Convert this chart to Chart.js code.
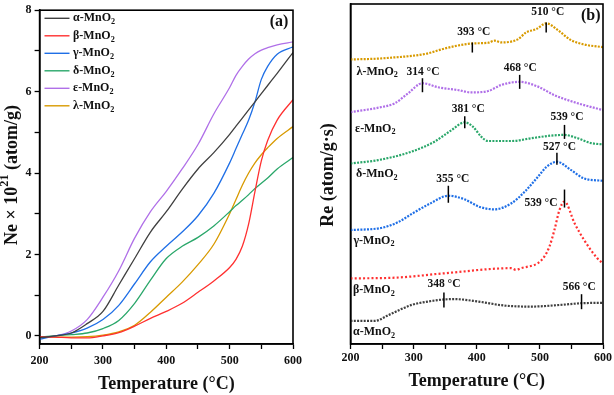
<!DOCTYPE html>
<html><head><meta charset="utf-8">
<script src="https://cdn.jsdelivr.net/npm/chart.js@4/dist/chart.umd.min.js"></script>
<style>
html,body{margin:0;padding:0;background:#fff;overflow:hidden;}
#wa{position:absolute;left:0;top:0;width:307px;height:395px;}
#wb{position:absolute;left:307px;top:0;width:307px;height:395px;}
</style></head><body>
<div id="wa"><canvas id="ca" width="307" height="395"></canvas></div>
<div id="wb"><canvas id="cb" width="307" height="395"></canvas></div>
<script>
// ---------- DATA ----------
const seriesNames = ['α-MnO', 'β-MnO', 'γ-MnO', 'δ-MnO', 'ε-MnO', 'λ-MnO']; // each followed by subscript "2"
const seriesColors = ['#404040', '#ff3030', '#1f6fe6', '#2aa76a', '#b070e8', '#d89a00'];

// Panel (a): Ne x 10^21 (atom/g) vs temperature
const tempsA = [200,225,250,275,300,325,350,375,400,425,450,475,500,510,520,530,540,550,560,575,600];
const neAlpha   = [-0.05,0.00,0.07,0.30,0.60,1.25,1.90,2.55,3.05,3.60,4.10,4.50,4.95,5.15,5.35,5.55,5.75,5.95,6.15,6.45,6.96];
const neBeta    = [-0.02,-0.03,-0.05,-0.05,0.00,0.08,0.24,0.43,0.60,0.80,1.07,1.35,1.68,1.88,2.20,2.75,3.55,4.30,4.80,5.30,5.80];
const neGamma   = [-0.08,0.00,0.07,0.19,0.40,0.75,1.28,1.82,2.20,2.55,2.95,3.50,4.25,4.60,4.95,5.30,5.75,6.30,6.62,6.92,7.10];
const neDelta   = [-0.03,0.00,0.03,0.07,0.18,0.38,0.80,1.37,1.90,2.20,2.42,2.70,3.05,3.20,3.33,3.47,3.62,3.75,3.88,4.10,4.38];
const neEpsilon = [-0.05,0.00,0.12,0.40,0.95,1.60,2.40,3.05,3.55,4.10,4.70,5.45,6.10,6.40,6.62,6.80,6.93,7.02,7.08,7.15,7.22];
const neLambda  = [-0.03,-0.03,-0.03,-0.02,0.02,0.10,0.26,0.58,0.95,1.32,1.75,2.25,3.00,3.35,3.70,4.00,4.25,4.45,4.62,4.85,5.14];
const xTicksA = [200, 300, 400, 500, 600];
const yTicksA = [0, 2, 4, 6, 8];

// Panel (b): Re (atom/g·s) vs temperature, stacked (arbitrary offset units)
const reAlphaT   = [200,239,260,297,323,348,365,402,444,486,533,566,600];
const reAlphaV   = [6.8,6.8,8.5,11.5,12.5,13.1,13.2,12.5,11.3,11.0,11.5,12.0,12.1];
const reBetaT    = [200,270,349,455,462,470,497,507,515,523,531,539,555,570,591,600];
const reBetaV    = [19.3,19.5,20.8,22.3,21.8,22.3,23.8,25.7,28.6,33.5,39.4,41.9,35.5,30.6,25.2,23.7];
const reGammaT   = [200,250,275,300,325,355,380,405,428,455,476,497,510,527,549,570,600];
const reGammaV   = [33.5,34.2,35.8,38.6,41.2,43.6,42.6,40.3,39.6,41.4,44.8,49.2,52.0,53.6,51.2,48.7,48.0];
const reDeltaT   = [200,244,297,333,360,381,394,407,418,455,486,518,539,560,581,600];
const reDeltaV   = [53.1,54.1,56.6,59.5,62.9,65.2,63.9,61.0,59.7,59.7,60.5,61.3,61.5,60.5,59.1,58.7];
const reEpsilonT = [200,244,270,291,314,339,349,370,391,418,439,468,497,523,560,600];
const reEpsilonV = [68.2,69.5,70.8,73.7,76.7,75.5,75.2,74.7,74.0,74.4,76.2,77.1,75.7,73.2,70.8,68.8];
const reLambdaT  = [200,240,270,300,323,345,365,394,418,428,439,465,478,494,510,528,549,570,600];
const reLambdaV  = [83.7,83.9,84.3,84.8,85.5,86.7,87.6,88.4,88.6,89.2,88.7,89.6,91.6,92.6,94.3,92.4,89.4,88.1,87.3];
// peak markers: series index and temperature (°C)
const peakSeries = [5, 5, 4, 4, 3, 3, 2, 2, 1, 0, 0];
const peakTemps  = [510, 393, 314, 468, 381, 539, 527, 355, 539, 348, 566];

// ---------- STYLE ----------
const SERIF = '"Liberation Serif", "Times New Roman", serif';
// marker line offsets (px) relative to curve, and label offsets
const peakStyle = [
  {t:-1,b:9,dx:1.5,dy:-10.5},{t:-1,b:9,dx:1.5,dy:-11},
  {t:-5,b:9,dx:0.5,dy:-6.5},{t:-7,b:7,dx:0.5,dy:-6.7},
  {t:-6,b:6,dx:3.5,dy:-7.7},{t:-10,b:4,dx:2.5,dy:-7.7},
  {t:-9,b:3,dx:2.5,dy:-5.8},{t:-10,b:7,dx:4.5,dy:-6.7},
  {t:-12,b:6,dx:-23.5,dy:13.3},
  {t:-7,b:8,dx:0,dy:-8.3},{t:-9,b:6,dx:-2.3,dy:-7}
];

function drawRich(ctx, parts, x, y, size, align) {
  // parts: [text, mode] mode 0 normal, 1 subscript, 2 superscript
  const widths = parts.map(([t, m]) => {
    ctx.font = 'bold ' + (m ? size * 0.68 : size) + 'px ' + SERIF;
    return ctx.measureText(t).width;
  });
  const total = widths.reduce((a, b) => a + b, 0);
  let cx = align === 'center' ? x - total / 2 : (align === 'right' ? x - total : x);
  ctx.textAlign = 'left';
  ctx.textBaseline = 'middle';
  parts.forEach(([t, m], i) => {
    ctx.font = 'bold ' + (m ? size * 0.68 : size) + 'px ' + SERIF;
    const dy = m === 1 ? size * 0.3 : (m === 2 ? -size * 0.38 : 0);
    ctx.fillText(t, cx, y + dy);
    cx += widths[i];
  });
}

function frame(chart) {
  const a = chart.chartArea, ctx = chart.ctx;
  ctx.save();
  ctx.strokeStyle = '#000';
  ctx.lineWidth = 1.6;
  ctx.strokeRect(a.left, a.top, a.right - a.left, a.bottom - a.top);
  ctx.restore();
}

const pts = (xs, ys) => xs.map((x, i) => ({x, y: ys[i]}));

// ---------- CHART A ----------
const seriesA = [neAlpha, neBeta, neGamma, neDelta, neEpsilon, neLambda];
const pluginA = {
  id: 'decoA',
  afterDraw(chart) {
    const ctx = chart.ctx;
    frame(chart);
    ctx.save();
    ctx.fillStyle = '#000';
    // legend
    seriesNames.forEach((n, i) => {
      const y = 18.3 + i * 17.5;
      ctx.strokeStyle = seriesColors[i];
      ctx.lineWidth = 1.4;
      ctx.beginPath(); ctx.moveTo(44.5, y); ctx.lineTo(69.5, y); ctx.stroke();
      ctx.fillStyle = '#111';
      drawRich(ctx, [[n, 0], ['2', 1]], 73, y, 12, 'left');
    });
    // panel tag
    drawRich(ctx, [['(a)', 0]], 279, 21.5, 16, 'center');
    // y title
    ctx.translate(12, 175);
    ctx.rotate(-Math.PI / 2);
    drawRich(ctx, [['Ne × 10', 0], ['21', 2], [' (atom/g)', 0]], 0, 0, 18, 'center');
    ctx.restore();
  }
};
new Chart(document.getElementById('ca'), {
  type: 'line',
  data: {
    datasets: seriesA.map((v, i) => ({
      label: seriesNames[i] + '2',
      data: pts(tempsA, v),
      borderColor: seriesColors[i],
      borderWidth: 1.3,
      pointRadius: 0,
      cubicInterpolationMode: 'monotone',
      fill: false
    }))
  },
  options: {
    responsive: false,
    animation: false,
    layout: {padding: {left: 0, right: 13.8, top: 4, bottom: 0}},
    plugins: {legend: {display: false}, tooltip: {enabled: false}},
    scales: {
      x: {
        type: 'linear', min: 200, max: 600,
        afterFit(s) { s.height = 51; },
        grid: {drawOnChartArea: false, drawTicks: true, tickLength: 5, tickColor: '#000', tickWidth: 1.3},
        border: {display: true, color: '#000', width: 1.6},
        ticks: {stepSize: 50, autoSkip: false, maxRotation: 0, padding: 5, color: '#111',
          font: {family: SERIF, size: 12, weight: 'bold'},
          callback: v => xTicksA.includes(v) ? String(v) : ''},
        title: {display: true, text: 'Temperature (°C)', color: '#111',
          font: {family: SERIF, size: 18, weight: 'bold'}, padding: {top: 0, bottom: 0}}
      },
      y: {
        type: 'linear', min: -0.2, max: 8,
        afterFit(s) { s.width = 39.6; },
        grid: {drawOnChartArea: false, drawTicks: true, tickLength: 5, tickColor: '#000', tickWidth: 1.3},
        border: {display: true, color: '#000', width: 1.6},
        ticks: {stepSize: 1, includeBounds: false, autoSkip: false, padding: 3, color: '#111',
          font: {family: SERIF, size: 12, weight: 'bold'},
          callback: v => yTicksA.includes(v) ? String(v) : ''}
      }
    }
  },
  plugins: [pluginA]
});

// ---------- CHART B ----------
const seriesB = [
  [reAlphaT, reAlphaV], [reBetaT, reBetaV], [reGammaT, reGammaV],
  [reDeltaT, reDeltaV], [reEpsilonT, reEpsilonV], [reLambdaT, reLambdaV]
];
const labelYB = [332, 290, 240.5, 174, 128.5, 71.5];
const labelXB = [353, 353, 353.5, 356, 355, 356.5];
function curveAt(si, T) {
  const [xs, ys] = seriesB[si];
  for (let i = 0; i < xs.length - 1; i++) {
    if (T >= xs[i] && T <= xs[i + 1]) {
      const f = (T - xs[i]) / (xs[i + 1] - xs[i]);
      return ys[i] + f * (ys[i + 1] - ys[i]);
    }
  }
  return ys[ys.length - 1];
}
const pluginB = {
  id: 'decoB',
  afterDraw(chart) {
    const ctx = chart.ctx, xs = chart.scales.x, ys = chart.scales.y;
    frame(chart);
    ctx.save();
    ctx.fillStyle = '#111';
    ctx.strokeStyle = '#000';
    ctx.lineWidth = 1.5;
    peakTemps.forEach((T, k) => {
      const st = peakStyle[k];
      const px = xs.getPixelForValue(T);
      const py = ys.getPixelForValue(curveAt(peakSeries[k], T));
      ctx.beginPath(); ctx.moveTo(px, py + st.t); ctx.lineTo(px, py + st.b); ctx.stroke();
      drawRich(ctx, [[T + ' °C', 0]], px + st.dx, py + st.t + st.dy, 11.5, 'center');
    });
    seriesNames.forEach((n, i) => {
      drawRich(ctx, [[n, 0], ['2', 1]], labelXB[i] - 307, labelYB[i], 12, 'left');
    });
    drawRich(ctx, [['(b)', 0]], 590.8 - 307, 15.7, 16, 'center');
    ctx.translate(21, 175);
    ctx.rotate(-Math.PI / 2);
    drawRich(ctx, [['Re (atom/g·s)', 0]], 0, 0, 18, 'center');
    ctx.restore();
  }
};
new Chart(document.getElementById('cb'), {
  type: 'line',
  data: {
    datasets: seriesB.map(([t, v], i) => ({
      label: seriesNames[i] + '2',
      data: pts(t, v),
      borderColor: seriesColors[i],
      borderWidth: 2.2,
      borderDash: i === 1 ? [2, 2.2] : [2, 1.3],
      pointRadius: 0,
      cubicInterpolationMode: 'monotone',
      fill: false
    }))
  },
  options: {
    responsive: false,
    animation: false,
    layout: {padding: {left: 0, right: 10.5, top: 4, bottom: 0}},
    plugins: {legend: {display: false}, tooltip: {enabled: false}},
    scales: {
      x: {
        type: 'linear', min: 200, max: 600,
        afterFit(s) { s.height = 51; },
        grid: {drawOnChartArea: false, drawTicks: true, tickLength: 5, tickColor: '#000', tickWidth: 1.3},
        border: {display: true, color: '#000', width: 1.6},
        ticks: {stepSize: 50, autoSkip: false, maxRotation: 0, padding: 2, color: '#111',
          font: {family: SERIF, size: 12, weight: 'bold'},
          callback: v => xTicksA.includes(v) ? String(v) : ''},
        title: {display: true, text: 'Temperature (°C)', color: '#111',
          font: {family: SERIF, size: 18, weight: 'bold'}, padding: {top: 0, bottom: 3}}
      },
      y: {
        type: 'linear', min: 0, max: 100,
        afterFit(s) { s.width = 43.5; },
        grid: {display: false},
        border: {display: true, color: '#000', width: 1.6},
        ticks: {display: false}
      }
    }
  },
  plugins: [pluginB]
});
</script>
</body></html>
